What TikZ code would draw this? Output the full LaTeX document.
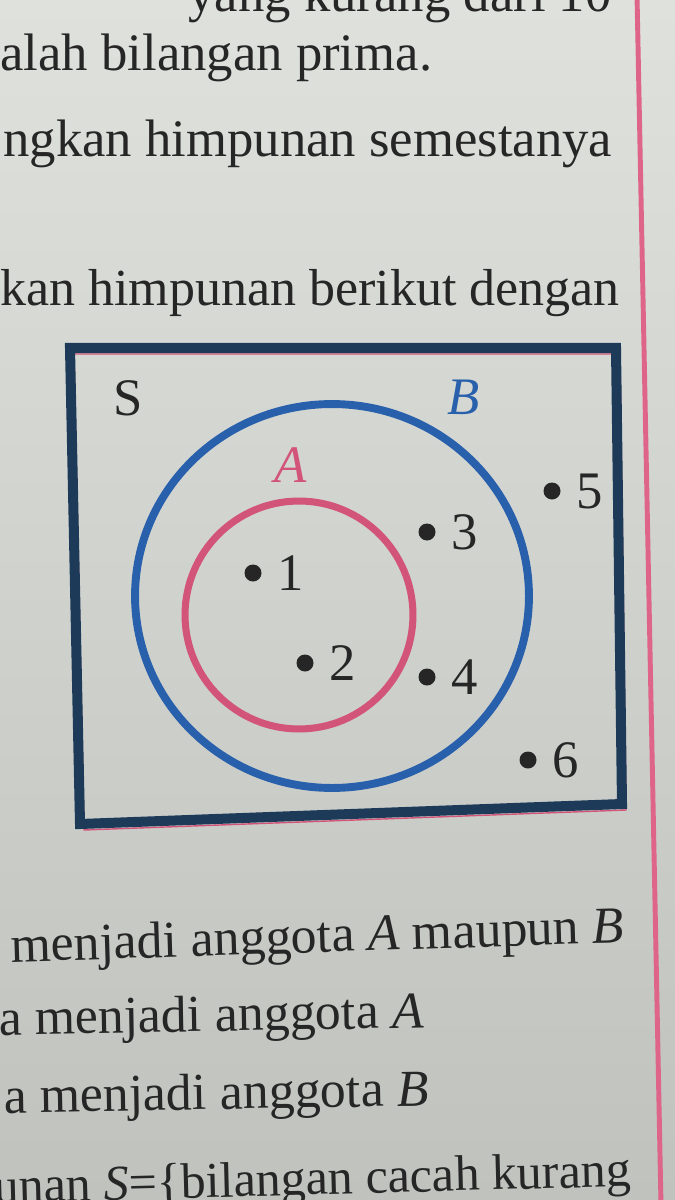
\documentclass[tikz,border=0pt]{standalone}
\usepackage{fontspec}
\setmainfont{Liberation Serif}
\usetikzlibrary{shapes.geometric}

\definecolor{paperhi}{RGB}{223,225,221}
\definecolor{paperlo}{RGB}{192,194,190}
\definecolor{ink}{RGB}{38,38,38}
\definecolor{navy}{RGB}{29,58,88}
\definecolor{setblue}{RGB}{40,96,172}
\definecolor{setpink}{RGB}{210,84,120}
\definecolor{marginpink}{RGB}{222,100,138}

\newcommand*{\bodyfont}{\fontsize{30}{36}\selectfont}
\newcommand*{\lowfont}{\fontsize{29.5}{36}\selectfont}

\begin{document}
\begin{tikzpicture}[x=0.02cm,y=-0.02cm]

\tikzstyle {textline}=[font=\bodyfont, text=ink, anchor=base west, inner sep=0pt];
\tikzstyle {lowline}=[textline, font=\lowfont];
\tikzstyle {elem}=[shape=circle, fill=ink, minimum size=3.4mm, inner sep=0pt];
\tikzstyle {num}=[font=\bodyfont, text=ink, anchor=west, inner xsep=3mm];
\tikzstyle {frame}=[draw=navy, line width=5.7pt, line join=miter];

% Page
\clip (0,0) rectangle (675,1200);
\shade [top color=paperhi, bottom color=paperlo] (0,0) rectangle (675,1200);
\draw [marginpink, line width=2.8pt] (637,-5) -- (661,1205);

% Running text
\draw (612,11) node [textline, anchor=base east] (t0) {yang kurang dari 10};
\draw (0,70) node [textline] (t1) {alah bilangan prima.};
\draw (3,156) node [textline] (t2) {ngkan himpunan semestanya};
\draw (0,305) node [textline, font=\fontsize{29.6}{36}\selectfont] (t3) {kan himpunan berikut dengan};
\draw (11,962) node [lowline, rotate=1.8] (t4) {menjadi anggota \textit{A} maupun \textit{B}};
\draw (-1,1035) node [lowline, rotate=1] (t5) {a menjadi anggota \textit{A}};
\draw (4,1113) node [lowline, rotate=1] (t6) {a menjadi anggota \textit{B}};
\draw (-6,1203) node [lowline, font=\fontsize{28.5}{36}\selectfont, rotate=1.5] (t7)
  {unan \textit{S}=\{bilangan cacah kurang};

% Universe
\draw [setpink, line width=0.8pt] (74,354) -- (620,354) -- (626,810) -- (84,830) -- cycle;
\draw [frame] (70,348) -- (616,348) -- (622,804) -- (80,824) -- cycle;
\draw (128,398) node [font=\bodyfont, text=ink] (S) {S};

% Sets
\draw (332,596) node [draw=setblue, line width=4.5pt, shape=ellipse,
                      minimum width=7.88cm, minimum height=7.68cm] (B) {};
\draw (299,615) node [draw=setpink, line width=4pt, shape=circle,
                      minimum size=4.56cm] (A) {};
\draw (464,397) node [font=\bodyfont\itshape, text=setblue] (Blabel) {B};
\draw (291,465) node [font=\bodyfont\itshape, text=setpink] (Alabel) {A};

% Elements
\draw (253,573) node [elem] (e1) {};
\draw (e1.east) node [num] (n1) {1};
\draw (305,663) node [elem] (e2) {};
\draw (e2.east) node [num] (n2) {2};
\draw (427,532) node [elem] (e3) {};
\draw (e3.east) node [num] (n3) {3};
\draw (427,677) node [elem] (e4) {};
\draw (e4.east) node [num] (n4) {4};
\draw (552,491) node [elem] (e5) {};
\draw (e5.east) node [num] (n5) {5};
\draw (528,760) node [elem] (e6) {};
\draw (e6.east) node [num] (n6) {6};
\end{tikzpicture}
\end{document}
